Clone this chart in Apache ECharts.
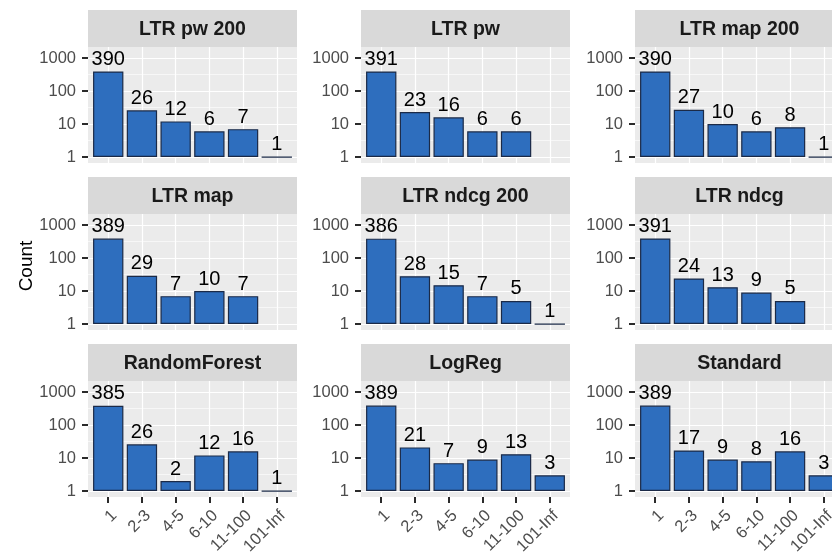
<!DOCTYPE html>
<html><head><meta charset="utf-8">
<script src="https://cdn.jsdelivr.net/npm/echarts@6/dist/echarts.min.js"></script>
<style>html,body{margin:0;padding:0;background:#fff}#c{width:832px;height:552px}</style>
</head><body><div id="c"></div>
<script>
// ---- data ----
const categories = ["1", "2-3", "4-5", "6-10", "11-100", "101-Inf"];
const panelTitles = ["LTR pw 200", "LTR pw", "LTR map 200", "LTR map", "LTR ndcg 200", "LTR ndcg", "RandomForest", "LogReg", "Standard"];
const ltrPw200    = [390, 26, 12, 6, 7, 1];
const ltrPw       = [391, 23, 16, 6, 6, null];
const ltrMap200   = [390, 27, 10, 6, 8, 1];
const ltrMap      = [389, 29, 7, 10, 7, null];
const ltrNdcg200  = [386, 28, 15, 7, 5, 1];
const ltrNdcg     = [391, 24, 13, 9, 5, null];
const randomForest = [385, 26, 2, 12, 16, 1];
const logReg      = [389, 21, 7, 9, 13, 3];
const standard    = [389, 17, 9, 8, 16, 3];
const yTickValues = [1, 10, 100, 1000];
const yMinorValues = [3.1623, 31.623, 316.23];
const yAxisTitle = "Count";

const panelData = [ltrPw200, ltrPw, ltrMap200, ltrMap, ltrNdcg200, ltrNdcg, randomForest, logReg, standard];

// ---- layout ----
const FONT = '"Liberation Sans", Arial, sans-serif';
const colLeft = [88, 361, 635];
const rowTop = [10, 177, 344];
const stripH = 37, panelW = 209, panelH = 116;
const yMin = Math.pow(10, -0.18), yMax = Math.pow(10, 3.333);
const pitch = panelW / 6.2;
const TICK = {color: '#2B2B2B', width: 2};

const grids = [], xAxes = [], yAxes = [], series = [], graphics = [];
panelData.forEach((vals, i) => {
  const r = Math.floor(i / 3), c = i % 3;
  const px = colLeft[c], py = rowTop[r] + stripH;
  const bottomRow = r === 2;
  grids.push({left: px, top: py, width: panelW, height: panelH, show: true, backgroundColor: '#EBEBEB', borderWidth: 0,
    containLabel: false, outerBoundsMode: 'none'});
  grids.push({left: px + 0.1 * pitch, top: py, width: 6 * pitch, height: panelH, containLabel: false, outerBoundsMode: 'none'});
  const g0 = 2 * i, g1 = 2 * i + 1;
  xAxes.push({gridIndex: g0, type: 'value', min: 0, max: 1, show: false});
  xAxes.push({
    gridIndex: g1, type: 'category', data: categories, boundaryGap: true,
    axisLine: {show: false},
    axisTick: {show: bottomRow, inside: false, alignWithLabel: true, interval: 0, length: 6, lineStyle: TICK},
    axisLabel: {show: bottomRow, interval: 0, rotate: 45, align: 'right', verticalAlign: 'top', margin: 10,
      fontSize: 16.5, color: '#4D4D4D', fontFamily: FONT},
    splitLine: {show: true, interval: 0, alignWithLabel: true, lineStyle: {color: '#FFFFFF', width: 1.2}}
  });
  yAxes.push({
    gridIndex: g0, type: 'log', min: yMin, max: yMax,
    axisLine: {show: false},
    axisTick: {show: true, inside: false, length: 6, customValues: yTickValues, lineStyle: TICK},
    axisLabel: {show: true, customValues: yTickValues, fontSize: 16.5, color: '#4D4D4D', margin: 12, fontFamily: FONT,
      formatter: v => String(Math.round(v))},
    splitLine: {show: true, customValues: yTickValues, lineStyle: {color: '#FFFFFF', width: 1.2}}
  });
  yAxes.push({
    gridIndex: g0, type: 'log', min: yMin, max: yMax,
    axisLine: {show: false},
    axisTick: {show: false, customValues: yMinorValues},
    axisLabel: {show: false, customValues: yMinorValues},
    splitLine: {show: true, customValues: yMinorValues, lineStyle: {color: '#FFFFFF', width: 0.6}}
  });
  yAxes.push({gridIndex: g1, type: 'log', min: yMin, max: yMax, show: false, splitLine: {show: false}});
  series.push({
    type: 'bar', xAxisIndex: g1, yAxisIndex: 3 * i + 2,
    data: vals, barWidth: '90%',
    itemStyle: {color: '#2E6EBE', borderColor: '#1B2A47', borderWidth: 1.2},
    label: {show: true, position: 'top', distance: 2, fontSize: 20, color: '#000000', fontFamily: FONT},
    z: 3
  });
  graphics.push({type: 'rect', shape: {x: px, y: rowTop[r], width: panelW, height: stripH}, style: {fill: '#D9D9D9'}, z: 1});
  graphics.push({type: 'text', x: px + panelW / 2, y: rowTop[r] + stripH / 2 + 1, z: 2,
    style: {text: panelTitles[i], fontSize: 19.5, fontWeight: 'bold', fontFamily: FONT, fill: '#1A1A1A', align: 'center', verticalAlign: 'middle'}});
});
graphics.push({type: 'text', x: 27, y: 266, rotation: Math.PI / 2, z: 2,
  style: {text: yAxisTitle, fontSize: 19, fontFamily: FONT, fill: '#000000', align: 'center', verticalAlign: 'middle'}});

const chart = echarts.init(document.getElementById('c'), null, {renderer: 'canvas'});
chart.setOption({
  animation: false,
  backgroundColor: '#FFFFFF',
  grid: grids, xAxis: xAxes, yAxis: yAxes, series: series, graphic: graphics
});
</script></body></html>
